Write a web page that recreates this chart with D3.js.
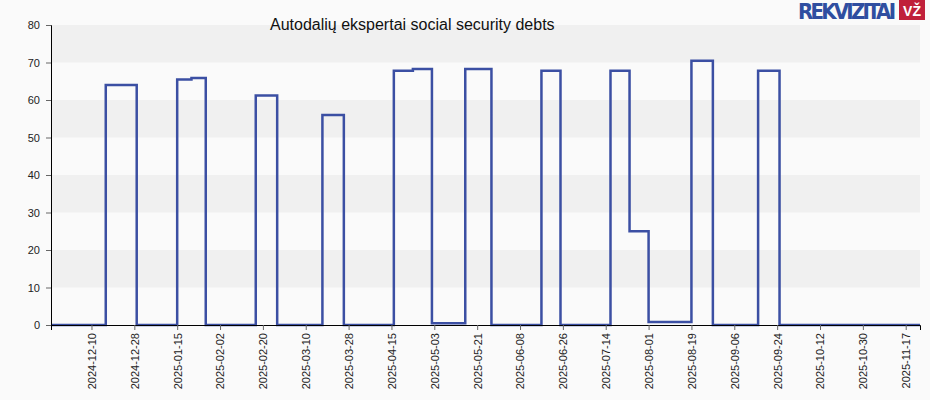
<!DOCTYPE html><html><head><meta charset="utf-8"><script src="https://cdn.jsdelivr.net/npm/d3@7"></script>
<style>body{margin:0;background:#fafafa}svg{font-family:Arial,"Liberation Sans",sans-serif}</style></head><body><svg id="c" width="930" height="400"></svg>
<script>
const dates=["2024-11-23","2024-12-16","2024-12-29","2025-01-15","2025-01-21","2025-01-27","2025-02-17","2025-02-26","2025-03-17","2025-03-26","2025-04-16","2025-04-24","2025-05-02","2025-05-16","2025-05-27","2025-06-17","2025-06-25","2025-07-16","2025-07-24","2025-08-01","2025-08-19","2025-08-28","2025-09-16","2025-09-25","2025-11-23"];
const values=[0,64,0,65.5,65.9,0,61.2,0,56,0,67.8,68.3,0.5,68.3,0,67.8,0,67.8,25,0.8,70.5,0,67.8,0,0];
const tickLabels=["2024-12-10","2024-12-28","2025-01-15","2025-02-02","2025-02-20","2025-03-10","2025-03-28","2025-04-15","2025-05-03","2025-05-21","2025-06-08","2025-06-26","2025-07-14","2025-08-01","2025-08-19","2025-09-06","2025-09-24","2025-10-12","2025-10-30","2025-11-17"];
const yTicks=[0,10,20,30,40,50,60,70,80];
const p=d3.timeParse("%Y-%m-%d");
const svg=d3.select("#c");
const L=51,R=920,T=25,B=325;
const x=d3.scaleTime().domain([p(dates[0]),p(dates[dates.length-1])]).range([L,R]);
const y=d3.scaleLinear().domain([0,80]).range([B,T]);
for(let i=0;i<8;i++){svg.append("rect").attr("x",L).attr("width",R-L).attr("y",y(yTicks[i+1])).attr("height",y(yTicks[i])-y(yTicks[i+1])).attr("fill",i%2?"#f0f0f0":"#fafafa");}
const line=d3.line().x(d=>x(p(d[0]))).y(d=>y(d[1])).curve(d3.curveStepAfter);
svg.append("path").datum(dates.map((d,i)=>[d,values[i]])).attr("d",line).attr("fill","none").attr("stroke","#3b4fa3").attr("stroke-width",2.5);
const ya=svg.append("g").attr("transform",`translate(${L},0)`).call(d3.axisLeft(y).tickValues(yTicks).tickSize(5).tickPadding(6));
const xa=svg.append("g").attr("transform",`translate(0,${B})`).call(d3.axisBottom(x).tickValues(tickLabels.map(p)).tickFormat(d3.timeFormat("%Y-%m-%d")).tickSize(5));
xa.selectAll("text").attr("transform","rotate(-90)").attr("text-anchor","end").attr("dx","-8").attr("dy","0.35em").attr("y",0);
svg.selectAll(".domain").attr("stroke","#000");
svg.selectAll(".tick line").attr("stroke","#666");
svg.selectAll(".tick text").attr("font-size",11).attr("fill","#222");
svg.append("text").attr("x",270).attr("y",30).attr("font-size",16).attr("fill","#111").text("Autodalių ekspertai social security debts");
svg.append("text").attr("x",798).attr("y",19).attr("font-size",22).attr("font-weight","bold").attr("fill","#2f4ea0").attr("textLength",98).attr("font-family","'DejaVu Sans Condensed',Arial").text("REKVIZITAI");
svg.append("rect").attr("x",899).attr("y",0).attr("width",26).attr("height",20).attr("fill","#c0203a");
svg.append("text").attr("x",912).attr("y",16).attr("text-anchor","middle").attr("font-size",14).attr("font-weight","bold").attr("fill","#fff").text("VŽ");
</script></body></html>
